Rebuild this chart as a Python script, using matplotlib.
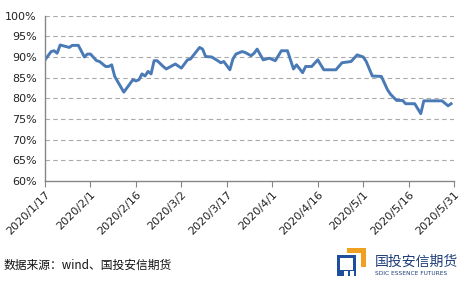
import numpy as np
import pandas as pd
import matplotlib.pyplot as plt
from matplotlib.patches import Rectangle
from matplotlib.ticker import PercentFormatter

plt.rcParams['font.family'] = ['DejaVu Sans', 'Noto Sans CJK SC']

# data (percent)
dates = ['2020-01-17', '2020-01-19', '2020-01-20', '2020-01-21', '2020-01-22',
         '2020-01-24', '2020-01-25', '2020-01-26', '2020-01-28', '2020-01-30',
         '2020-01-31', '2020-02-01', '2020-02-03', '2020-02-04', '2020-02-06',
         '2020-02-07', '2020-02-08', '2020-02-09', '2020-02-12', '2020-02-15',
         '2020-02-16', '2020-02-17', '2020-02-18', '2020-02-19', '2020-02-20',
         '2020-02-21', '2020-02-22', '2020-02-23', '2020-02-25', '2020-02-26',
         '2020-02-29', '2020-03-02', '2020-03-04', '2020-03-05', '2020-03-08',
         '2020-03-09', '2020-03-10', '2020-03-12', '2020-03-14', '2020-03-15',
         '2020-03-16', '2020-03-18', '2020-03-19', '2020-03-20', '2020-03-22',
         '2020-03-23', '2020-03-25', '2020-03-26', '2020-03-27', '2020-03-29',
         '2020-03-31', '2020-04-02', '2020-04-04', '2020-04-06', '2020-04-08',
         '2020-04-09', '2020-04-11', '2020-04-12', '2020-04-14', '2020-04-16',
         '2020-04-18', '2020-04-22', '2020-04-24', '2020-04-27', '2020-04-29',
         '2020-05-01', '2020-05-02', '2020-05-04', '2020-05-07', '2020-05-09',
         '2020-05-10', '2020-05-12', '2020-05-14', '2020-05-15', '2020-05-18',
         '2020-05-20', '2020-05-21', '2020-05-27', '2020-05-29', '2020-05-30']
ratio = [89.3, 91.3, 91.5, 90.9, 92.9,
         92.5, 92.3, 92.8, 92.8, 90.0,
         90.7, 90.7, 89.1, 88.9, 87.7,
         87.7, 88.1, 85.3, 81.5, 84.5,
         84.2, 84.5, 85.9, 85.4, 86.5,
         85.9, 89.1, 89.1, 87.7, 87.1,
         88.3, 87.3, 89.3, 89.5, 92.3,
         91.9, 90.1, 90.0, 89.1, 88.6,
         88.9, 86.9, 89.5, 90.7, 91.3,
         91.1, 90.3, 90.9, 91.9, 89.3,
         89.7, 89.1, 91.5, 91.5, 87.1,
         88.1, 86.2, 87.7, 87.7, 89.3,
         86.9, 86.9, 88.6, 88.9, 90.5,
         90.0, 88.9, 85.4, 85.3, 82.1,
         81.0, 79.5, 79.5, 78.7, 78.7,
         76.3, 79.4, 79.4, 78.2, 78.7]
tick_dates = ['2020-01-17', '2020-02-01', '2020-02-16', '2020-03-02', '2020-03-17',
              '2020-04-01', '2020-04-16', '2020-05-01', '2020-05-16', '2020-05-31']
tick_labels = ['2020/1/17', '2020/2/1', '2020/2/16', '2020/3/2', '2020/3/17',
               '2020/4/1', '2020/4/16', '2020/5/1', '2020/5/16', '2020/5/31']

x = pd.to_datetime(dates)
fig = plt.figure(figsize=(4.67, 2.94), dpi=100)
ax = fig.add_axes([0.0964, 0.384, 0.876, 0.563])

ax.plot(x, ratio, color='#4a7ab6', lw=2.1, solid_joinstyle='round')

ax.set_ylim(60, 100)
ax.set_yticks(np.arange(60, 101, 5))
ax.yaxis.set_major_formatter(PercentFormatter(decimals=0))
for v in range(65, 101, 5):
    ax.axhline(v, color='#aaaaaa', lw=0.8, ls=(0, (4, 3)), zorder=0)

ax.set_xlim(pd.Timestamp('2020-01-17'), pd.Timestamp('2020-05-31'))
ax.set_xticks(pd.to_datetime(tick_dates))
ax.set_xticklabels(tick_labels, rotation=45, ha='right', rotation_mode='anchor')

for s in ['top', 'right']:
    ax.spines[s].set_visible(False)
for s in ['left', 'bottom']:
    ax.spines[s].set_color('#868686')
    ax.spines[s].set_linewidth(1.0)
ax.tick_params(axis='y', length=0, labelsize=8, pad=6, colors='#222222')
ax.tick_params(axis='x', length=4, color='#868686', labelsize=8, pad=2, labelcolor='#222222')

fig.text(0.007, 0.098, '数据来源：wind、国投安信期货', fontsize=8.5,
         family=['Noto Sans CJK SC'], va='center', color='#111111')

# logo
W, H = 467, 294
def box(x0, y0, x1, y1, c):
    fig.patches.append(Rectangle((x0 / W, 1 - y1 / H), (x1 - x0) / W, (y1 - y0) / H,
                                 transform=fig.transFigure, color=c, lw=0))
box(347, 248, 366, 267, '#f0a020')
box(347, 253, 361, 267, 'white')
box(337, 255, 356, 276, '#1f4e9c')
box(340, 258, 353, 270, 'white')
box(344, 271, 348, 276, 'white')
box(350, 271, 354, 276, 'white')
fig.text(375 / W, 1 - 262 / H, '国投安信期货', fontsize=10, family=['Noto Sans CJK SC'],
         va='center', color='#1f3f7a')
fig.text(375 / W, 1 - 273.5 / H, 'SDIC ESSENCE FUTURES', fontsize=4.2, va='center',
         color='#1f3f7a')

fig.savefig('out.png', dpi=100)
